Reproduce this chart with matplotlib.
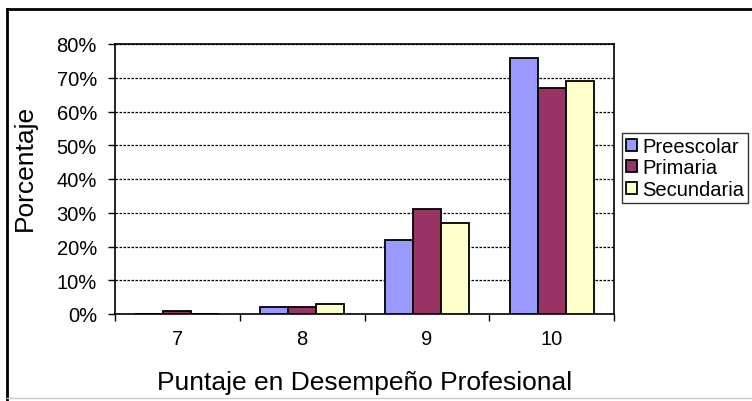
import numpy as np
import matplotlib
matplotlib.use("Agg")
import matplotlib.pyplot as plt
from matplotlib.lines import Line2D
from matplotlib.ticker import FixedLocator, PercentFormatter

# --- datos ---
categorias = ["7", "8", "9", "10"]
series = ["Preescolar", "Primaria", "Secundaria"]
preescolar = [0, 2, 22, 76]
primaria = [1, 2, 31, 67]
secundaria = [0, 3, 27, 69]
colores = ["#9999FF", "#993366", "#FFFFCC"]

plt.rcParams["font.family"] = ["Liberation Sans", "DejaVu Sans"]

fig = plt.figure(figsize=(7.52, 4.02), dpi=100)
fig.patch.set_facecolor("white")
ax = fig.add_axes([115 / 752, 1 - 315 / 402, (614 - 115) / 752, (315 - 45) / 402])

x = np.arange(len(categorias))
w = 0.224
for i, (nombre, vals) in enumerate(zip(series, [preescolar, primaria, secundaria])):
    ax.bar(x + (i - 1) * w, vals, width=w, color=colores[i], edgecolor="black",
           linewidth=1.3, label=nombre, zorder=3)

ax.set_xlim(-0.5, 3.5)
ax.set_ylim(0, 80)
ax.set_yticks(np.arange(0, 81, 10))
ax.yaxis.set_major_formatter(PercentFormatter(decimals=0))
ax.yaxis.grid(True, color="black", linestyle=(0, (2.0, 1.2)), linewidth=0.9, zorder=1)

# marcas entre categorias, etiquetas en el centro
ax.xaxis.set_major_locator(FixedLocator(np.arange(-0.5, 4, 1)))
ax.xaxis.set_major_formatter(plt.NullFormatter())
ax.xaxis.set_minor_locator(FixedLocator(x))
ax.set_xticklabels(categorias, minor=True)
ax.tick_params(axis="x", which="major", direction="out", length=5, width=1)
ax.tick_params(axis="x", which="minor", length=0, pad=11, labelsize=14.5)
ax.tick_params(axis="y", direction="out", length=5, width=1, pad=8, labelsize=14.5)

for s in ax.spines.values():
    s.set_color("black")
    s.set_linewidth(1.2)

ax.set_xlabel("Puntaje en Desempeño Profesional", fontsize=19, labelpad=16)
ax.set_ylabel("Porcentaje", fontsize=19)
ax.yaxis.set_label_coords(-0.156, 0.544)

leg = ax.legend(loc="upper left", bbox_to_anchor=(622 / 752, 1 - 134 / 402),
                bbox_transform=fig.transFigure, frameon=True, fancybox=False,
                fontsize=14.5, handlelength=0.55, handleheight=0.55, handletextpad=0.25,
                labelspacing=0.12, borderpad=0.2, borderaxespad=0)
leg.get_frame().set_edgecolor("black")
leg.get_frame().set_linewidth(1.0)

# borde exterior del grafico
fig.add_artist(Line2D([7 / 752, 1], [1 - 10 / 402, 1 - 10 / 402], color="black", lw=2, transform=fig.transFigure))
fig.add_artist(Line2D([7 / 752, 7 / 752], [0, 1 - 10 / 402], color="black", lw=2, transform=fig.transFigure))
fig.add_artist(Line2D([7 / 752, 1], [3 / 402, 3 / 402], color="#cccccc", lw=1, transform=fig.transFigure))

fig.savefig("out.png", dpi=100, facecolor="white")
